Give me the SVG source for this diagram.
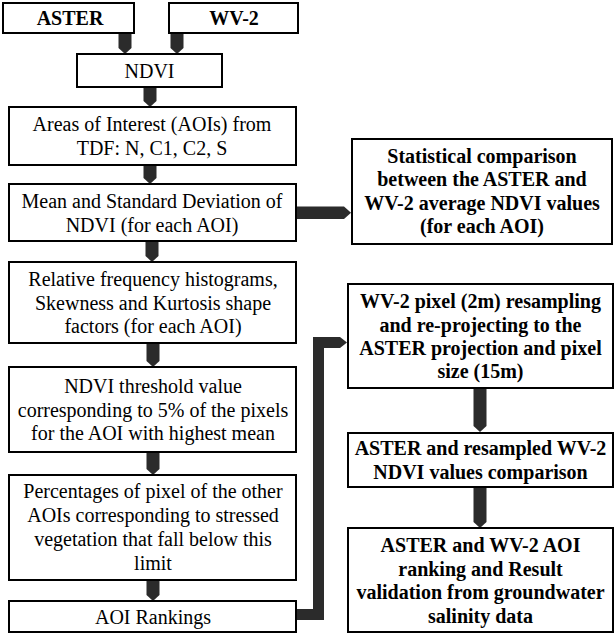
<svg xmlns="http://www.w3.org/2000/svg" width="614" height="634" viewBox="0 0 614 634">
<style>
.box{fill:#fff;stroke:#000;stroke-width:2}
.t{font-family:"Liberation Serif","Times New Roman",serif;font-size:20px;fill:#000;text-anchor:middle}
.b{font-weight:bold}
.arr{fill:#2b2b2b;stroke:none}
</style>
<rect width="614" height="634" fill="#fff"/>
<g id="connectors">
<polygon class="arr" points="118.5,33 131.5,33 131.5,48 125,54 118.5,48"/>
<polygon class="arr" points="170.5,33 183.5,33 183.5,48 177,54 170.5,48"/>
<polygon class="arr" points="143.5,87 156.5,87 156.5,101 150,107 143.5,101"/>
<polygon class="arr" points="143.5,165 156.5,165 156.5,178 150,184 143.5,178"/>
<polygon class="arr" points="145.5,241 158.5,241 158.5,256 152,262 145.5,256"/>
<polygon class="arr" points="146.5,343 159.5,343 159.5,361 153,367 146.5,361"/>
<polygon class="arr" points="146.5,452 159.5,452 159.5,469 153,475 146.5,469"/>
<polygon class="arr" points="146.5,580 159.5,580 159.5,595 153,601 146.5,595"/>
<polygon class="arr" points="295,206.5 344,206.5 351,212.75 344,219 295,219"/>
<polygon class="arr" points="473.5,388 486.5,388 486.5,426 480,432 473.5,426"/>
<polygon class="arr" points="473.5,487 486.5,487 486.5,522 480,528 473.5,522"/>
<polygon class="arr" points="296,620 324,620 324,348 340,348 347,342.5 340,337 313,337 313,609 296,609"/>
</g>
<g id="aster"><rect class="box" x="3" y="3" width="131" height="30"/><text class="t b" x="70" y="25">ASTER</text></g>
<g id="wv2"><rect class="box" x="169" y="3" width="129" height="30"/><text class="t b" x="234" y="25">WV-2</text></g>
<g id="ndvi"><rect class="box" x="77" y="54" width="145" height="33"/><text class="t" x="149.5" y="77.5">NDVI</text></g>
<g id="aois"><rect class="box" x="9" y="107" width="287" height="58"/><text class="t" x="152" y="131">Areas of Interest (AOIs) from</text><text class="t" x="152" y="155">TDF: N, C1, C2, S</text></g>
<g id="mean"><rect class="box" x="9" y="184" width="287" height="57"/><text class="t" x="152" y="207.5">Mean and Standard Deviation of</text><text class="t" x="152" y="231.5">NDVI (for each AOI)</text></g>
<g id="hist"><rect class="box" x="9" y="262" width="287" height="81"/><text class="t" x="153" y="286">Relative frequency histograms,</text><text class="t" x="153" y="309.5">Skewness and Kurtosis shape</text><text class="t" x="153" y="333">factors (for each AOI)</text></g>
<g id="threshold"><rect class="box" x="9" y="367" width="287" height="85"/><text class="t" x="153" y="393">NDVI threshold value</text><text class="t" x="153" y="416.5">corresponding to 5% of the pixels</text><text class="t" x="153" y="440">for the AOI with highest mean</text></g>
<g id="percent"><rect class="box" x="9" y="475" width="287" height="105"/><text class="t" x="153" y="498">Percentages of pixel of the other</text><text class="t" x="153" y="522">AOIs corresponding to stressed</text><text class="t" x="153" y="545.5">vegetation that fall below this</text><text class="t" x="153" y="569.5">limit</text></g>
<g id="ranking"><rect class="box" x="9" y="601" width="287" height="31"/><text class="t" x="153" y="623.5">AOI Rankings</text></g>
<g id="stat"><rect class="box" x="352" y="139" width="260" height="105"/><text class="t b" x="482" y="162.5">Statistical comparison</text><text class="t b" x="482" y="186">between the ASTER and</text><text class="t b" x="482" y="209.5">WV-2 average NDVI values</text><text class="t b" x="482" y="233">(for each AOI)</text></g>
<g id="resample"><rect class="box" x="348" y="284" width="265" height="104"/><text class="t b" x="480.5" y="308">WV-2 pixel (2m) resampling</text><text class="t b" x="480.5" y="331.5">and re-projecting to the</text><text class="t b" x="480.5" y="355">ASTER projection and pixel</text><text class="t b" x="480.5" y="378">size (15m)</text></g>
<g id="compare"><rect class="box" x="348" y="433" width="265" height="54"/><text class="t b" x="480.5" y="455">ASTER and resampled WV-2</text><text class="t b" x="480.5" y="478.5">NDVI values comparison</text></g>
<g id="final"><rect class="box" x="348" y="528" width="265" height="104"/><text class="t b" x="480.5" y="552">ASTER and WV-2 AOI</text><text class="t b" x="480.5" y="575.5">ranking  and Result</text><text class="t b" x="480.5" y="599">validation from groundwater</text><text class="t b" x="480.5" y="622.5">salinity data</text></g>
</svg>
